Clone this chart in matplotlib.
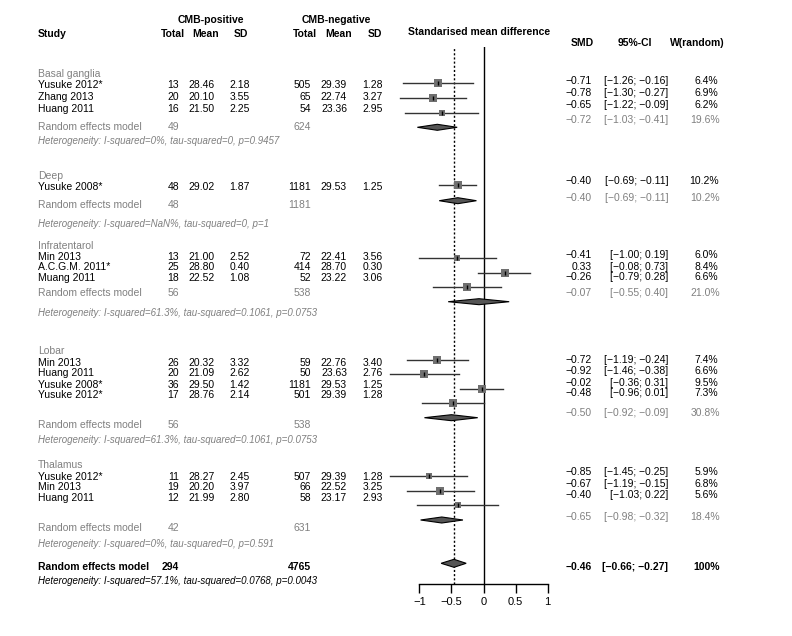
import matplotlib
matplotlib.use("Agg")
import matplotlib.pyplot as plt

plt.rcParams["font.family"] = ["Liberation Sans", "DejaVu Sans"]

# ---- data ----
groups = ["Basal ganglia", "Deep", "Infratentarol", "Lobar", "Thalamus"]
studies = [
    ["Yusuke 2012*", "Zhang 2013", "Huang 2011"],
    ["Yusuke 2008*"],
    ["Min 2013", "A.C.G.M. 2011*", "Muang 2011"],
    ["Min 2013", "Huang 2011", "Yusuke 2008*", "Yusuke 2012*"],
    ["Yusuke 2012*", "Min 2013", "Huang 2011"],
]
pos_n = [[13, 20, 16], [48], [13, 25, 18], [26, 20, 36, 17], [11, 19, 12]]
pos_mean = [["28.46", "20.10", "21.50"], ["29.02"], ["21.00", "28.80", "22.52"],
            ["20.32", "21.09", "29.50", "28.76"], ["28.27", "20.20", "21.99"]]
pos_sd = [["2.18", "3.55", "2.25"], ["1.87"], ["2.52", "0.40", "1.08"],
          ["3.32", "2.62", "1.42", "2.14"], ["2.45", "3.97", "2.80"]]
neg_n = [[505, 65, 54], [1181], [72, 414, 52], [59, 50, 1181, 501], [507, 66, 58]]
neg_mean = [["29.39", "22.74", "23.36"], ["29.53"], ["22.41", "28.70", "23.22"],
            ["22.76", "23.63", "29.53", "29.39"], ["29.39", "22.52", "23.17"]]
neg_sd = [["1.28", "3.27", "2.95"], ["1.25"], ["3.56", "0.30", "3.06"],
          ["3.40", "2.76", "1.25", "1.28"], ["1.28", "3.25", "2.93"]]
smd = [[-0.71, -0.78, -0.65], [-0.40], [-0.41, 0.33, -0.26],
       [-0.72, -0.92, -0.02, -0.48], [-0.85, -0.67, -0.40]]
ci_lo = [[-1.26, -1.30, -1.22], [-0.69], [-1.00, -0.08, -0.79],
         [-1.19, -1.46, -0.36, -0.96], [-1.45, -1.19, -1.03]]
ci_hi = [[-0.16, -0.27, -0.09], [-0.11], [0.19, 0.73, 0.28],
         [-0.24, -0.38, 0.31, 0.01], [-0.25, -0.15, 0.22]]
weight = [[6.4, 6.9, 6.2], [10.2], [6.0, 8.4, 6.6], [7.4, 6.6, 9.5, 7.3], [5.9, 6.8, 5.6]]

sub_pos_n = [49, 48, 56, 56, 42]
sub_neg_n = [624, 1181, 538, 538, 631]
sub_smd = [-0.72, -0.40, -0.07, -0.50, -0.65]
sub_lo = [-1.03, -0.69, -0.55, -0.92, -0.98]
sub_hi = [-0.41, -0.11, 0.40, -0.09, -0.32]
sub_w = [19.6, 10.2, 21.0, 30.8, 18.4]
sub_het = [
    "Heterogeneity: I-squared=0%, tau-squared=0, p=0.9457",
    "Heterogeneity: I-squared=NaN%, tau-squared=0, p=1",
    "Heterogeneity: I-squared=61.3%, tau-squared=0.1061, p=0.0753",
    "Heterogeneity: I-squared=61.3%, tau-squared=0.1061, p=0.0753",
    "Heterogeneity: I-squared=0%, tau-squared=0, p=0.591",
]
tot_pos_n, tot_neg_n = 294, 4765
tot_smd, tot_lo, tot_hi = -0.46, -0.66, -0.27
tot_het = "Heterogeneity: I-squared=57.1%, tau-squared=0.0768, p=0.0043"

# ---- layout (pixel rows) ----
label_y = [74, 176, 246, 351, 464.5]
row_y = [[85, 97, 109], [187.5], [257.5, 267.5, 278], [362.5, 373.5, 384.5, 395.5], [476.5, 487, 498]]
sub_y = [126.5, 205, 293, 425, 528]
het_y = [141.5, 224, 313, 440, 544]
rrow_y = [[81.5, 93, 105], [181.5], [255, 266.5, 277.5], [360, 371, 382.5, 393.5], [472, 484, 495]]
rsub_y = [120, 198, 293, 413.5, 517.5]
grow_y = [[83.3, 98.3, 113.3], [185], [258.3, 272.7, 286.7], [360, 374, 389, 403.3], [475.7, 490.7, 505]]
gsub_y = [127.3, 200.7, 301.7, 417.7, 520]
tot_y, tot_het_y, gtot_y = 566.5, 581, 563.3

GREY = "#808080"
FS = 7.5
W, H = 792, 636


def fmt(v):
    return f"{v:.2f}".replace("-", "\u2212")


fig = plt.figure(figsize=(W / 100, H / 100), dpi=100)
ax = fig.add_axes([0, 0, 1, 1])
ax.set_xlim(0, W)
ax.set_ylim(H, 0)
ax.axis("off")


def t(x, y, s, ha="left", **kw):
    kw.setdefault("fontsize", FS)
    ax.text(x, y, s, ha=ha, va="center", **kw)


# headers
t(211, 20, "CMB-positive", ha="center", fontweight="bold")
t(336, 20, "CMB-negative", ha="center", fontweight="bold")
t(38, 34, "Study", fontweight="bold")
for x, s in [(185, "Total"), (219, "Mean"), (248, "SD"), (317, "Total"), (352, "Mean"), (382, "SD")]:
    t(x, 34, s, ha="right", fontweight="bold")
t(479.5, 32, "Standarised mean difference", ha="center", fontweight="bold")
t(582, 43, "SMD", ha="center", fontweight="bold")
t(635, 43, "95%-CI", ha="center", fontweight="bold")
t(697.5, 43, "W(random)", ha="center", fontweight="bold")

# forest axes: x from -1..1 mapped to pixels 419.3..547.7, y rows in pixels
x0, x1, ytop, ybot = 419.3, 547.7, 47, 584
fa = fig.add_axes([x0 / W, (H - ybot) / H, (x1 - x0) / W, (ybot - ytop) / H])
fa.set_xlim(-1, 1)
fa.set_ylim(ybot, ytop)
fa.patch.set_alpha(0)
for sp in ["top", "left", "right"]:
    fa.spines[sp].set_visible(False)
fa.spines["bottom"].set_linewidth(1.0)
fa.set_yticks([])
fa.set_xticks([-1, -0.5, 0, 0.5, 1])
fa.set_xticklabels(["\u22121", "\u22120.5", "0", "0.5", "1"], fontsize=FS + 0.5)
fa.tick_params(axis="x", direction="out", length=6.5, width=1.0, pad=3)
fa.axvline(0, color="black", lw=1.0)
fa.axvline(tot_smd, color="black", lw=1.0, ls=(0, (1.5, 1.5)))


def diamond(y, est, lo, hi, h):
    fa.fill([lo, est, hi, est], [y, y - h, y, y + h], facecolor="#555555",
            edgecolor="black", lw=0.8, zorder=4, clip_on=False)


for g in range(len(groups)):
    t(38, label_y[g], groups[g], color=GREY)
    for i, name in enumerate(studies[g]):
        y = row_y[g][i]
        t(38, y, name)
        t(179, y, str(pos_n[g][i]), ha="right")
        t(215, y, pos_mean[g][i], ha="right")
        t(250, y, pos_sd[g][i], ha="right")
        t(311, y, str(neg_n[g][i]), ha="right")
        t(347, y, neg_mean[g][i], ha="right")
        t(383, y, neg_sd[g][i], ha="right")
        ry = rrow_y[g][i]
        t(591.5, ry, fmt(smd[g][i]), ha="right")
        t(668.5, ry, f"[{fmt(ci_lo[g][i])}; {fmt(ci_hi[g][i])}]", ha="right")
        t(718.5, ry, f"{weight[g][i]:.1f}%", ha="right")
        gy = grow_y[g][i]
        fa.plot([ci_lo[g][i], ci_hi[g][i]], [gy, gy], color="#333333", lw=1.0, clip_on=False, zorder=2)
        fa.scatter([smd[g][i]], [gy], marker="s", s=weight[g][i] * 4, color="#707070",
                   zorder=3, clip_on=False, linewidths=0)
        fa.scatter([smd[g][i]], [gy], marker="|", s=10, color="black", lw=1.0, zorder=4, clip_on=False)
    t(38, sub_y[g], "Random effects model", color=GREY)
    t(179, sub_y[g], str(sub_pos_n[g]), ha="right", color=GREY)
    t(311, sub_y[g], str(sub_neg_n[g]), ha="right", color=GREY)
    t(38, het_y[g], sub_het[g], color=GREY, style="italic", fontsize=7)
    t(591.5, rsub_y[g], fmt(sub_smd[g]), ha="right", color=GREY)
    t(668.5, rsub_y[g], f"[{fmt(sub_lo[g])}; {fmt(sub_hi[g])}]", ha="right", color=GREY)
    t(720, rsub_y[g], f"{sub_w[g]:.1f}%", ha="right", color=GREY)
    diamond(gsub_y[g], sub_smd[g], sub_lo[g], sub_hi[g], 3)

# overall
t(38, tot_y, "Random effects model", fontweight="bold")
t(179, tot_y, str(tot_pos_n), ha="right", fontweight="bold")
t(311, tot_y, str(tot_neg_n), ha="right", fontweight="bold")
t(38, tot_het_y, tot_het, style="italic", fontsize=7)
t(591.5, tot_y, fmt(tot_smd), ha="right", fontweight="bold")
t(668.5, tot_y, f"[{fmt(tot_lo)}; {fmt(tot_hi)}]", ha="right", fontweight="bold")
t(720, tot_y, "100%", ha="right", fontweight="bold")
diamond(gtot_y, tot_smd, tot_lo, tot_hi, 4)

fig.savefig("out.png", dpi=100)
